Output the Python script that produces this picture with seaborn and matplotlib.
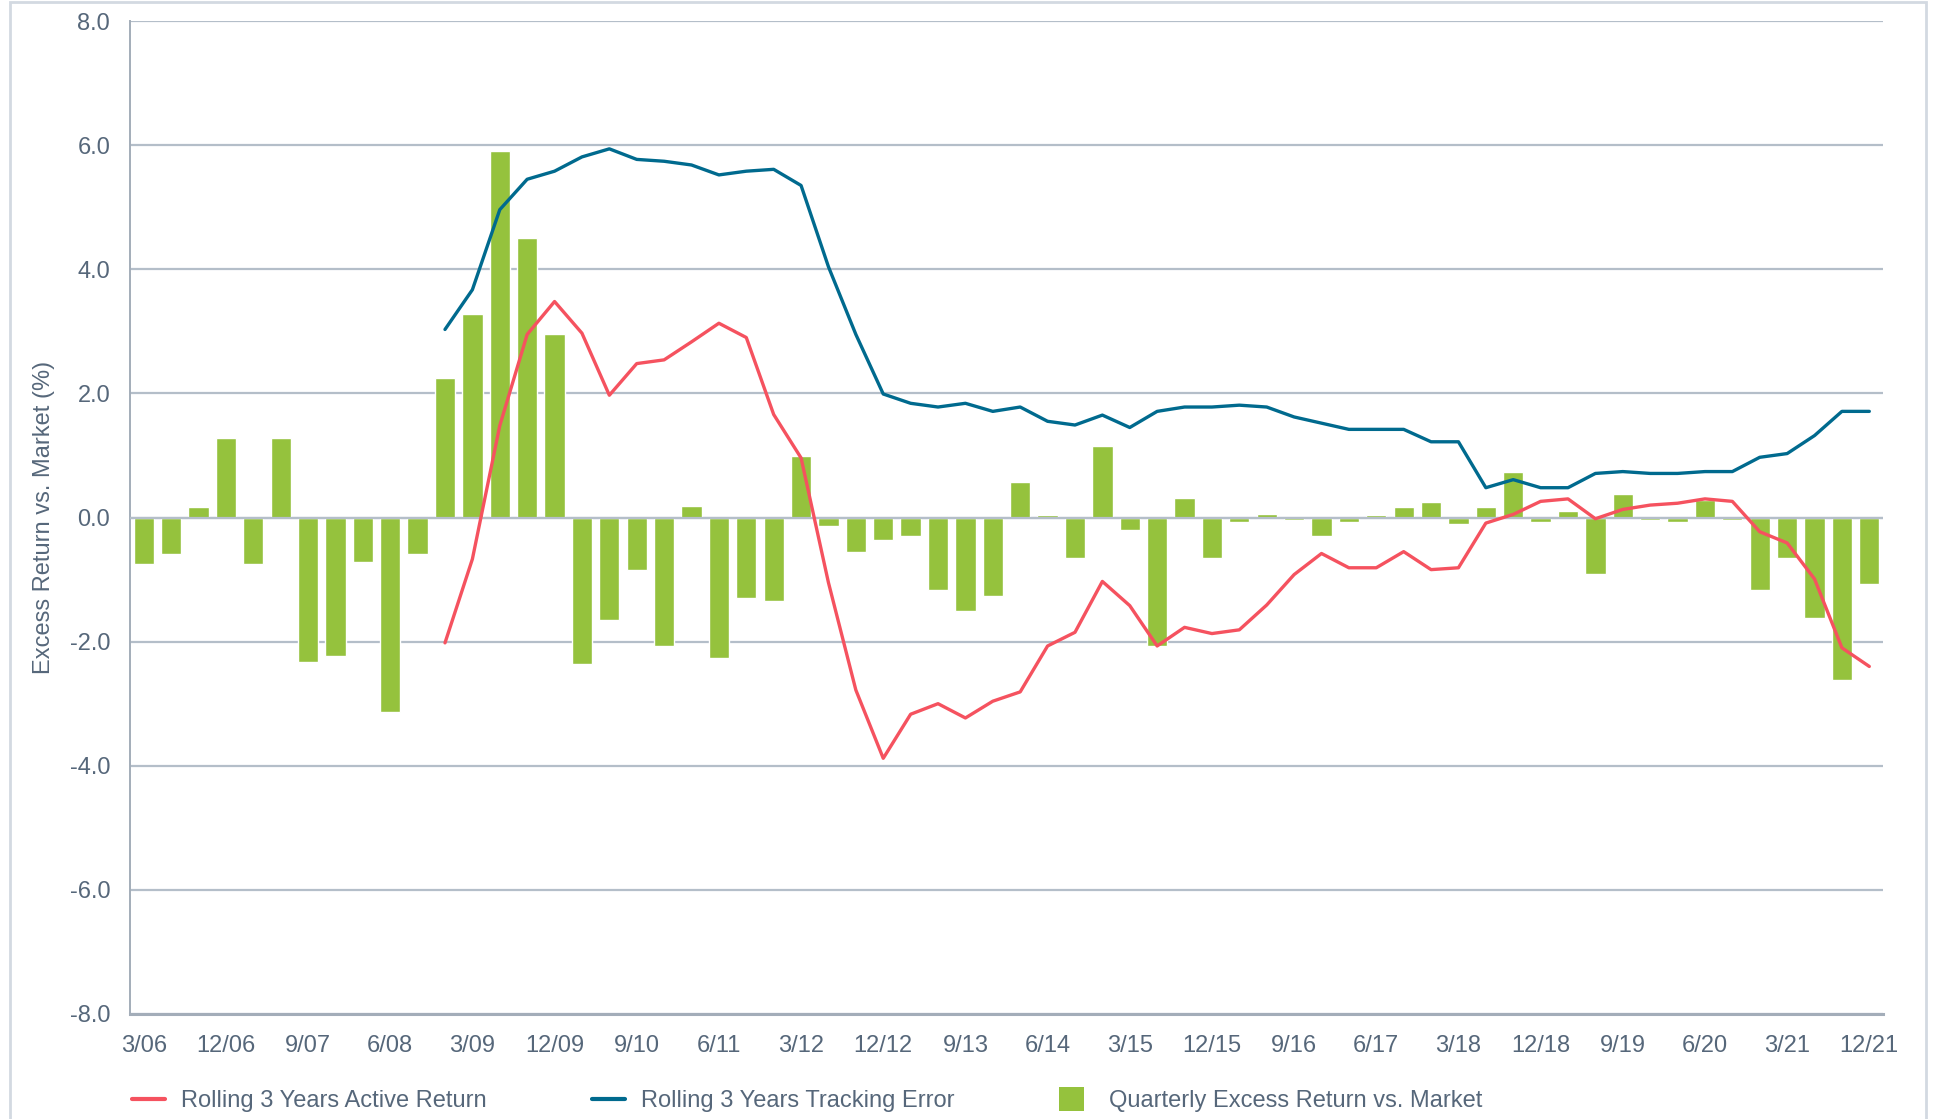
import numpy as np
import pandas as pd
import matplotlib
matplotlib.use("Agg")
import matplotlib.pyplot as plt
from matplotlib.lines import Line2D
from matplotlib.patches import Rectangle, Patch
from matplotlib.legend_handler import HandlerPatch
import seaborn as sns

# Quarter-end labels, 3/06 through 12/21
quarters = [f"{m}/{y:02d}" for y in range(6, 22) for m in (3, 6, 9, 12)]

# Quarterly excess return vs. market (%)
quarterly_excess = [
    -0.75, -0.59, 0.17, 1.28, -0.75, 1.28, -2.33, -2.23, -0.72, -3.14,
    -0.59, 2.25, 3.28, 5.90, 4.51, 2.96, -2.36, -1.65, -0.85, -2.07,
    0.18, -2.27, -1.30, -1.34, 0.99, -0.14, -0.55, -0.37, -0.30, -1.17,
    -1.50, -1.27, 0.57, 0.04, -0.66, 1.15, -0.20, -2.07, 0.31, -0.66,
    -0.07, 0.05, -0.04, -0.30, -0.07, 0.04, 0.17, 0.25, -0.10, 0.17,
    0.73, -0.07, 0.10, -0.91, 0.38, -0.04, -0.07, 0.28, -0.04, -1.17,
    -0.65, -1.62, -2.62, -1.07,
]

# Rolling 3-year statistics start with the 12th quarter (12/08)
rolling_quarters = quarters[11:]

active_return = [
    -2.02, -0.67, 1.48, 2.95, 3.48, 2.97, 1.97, 2.48, 2.54, 2.83,
    3.13, 2.90, 1.66, 0.96, -1.05, -2.78, -3.88, -3.17, -3.00, -3.23,
    -2.96, -2.81, -2.07, -1.85, -1.03, -1.42, -2.07, -1.77, -1.87, -1.81,
    -1.41, -0.92, -0.58, -0.81, -0.81, -0.55, -0.84, -0.81, -0.09, 0.05,
    0.26, 0.30, -0.02, 0.13, 0.20, 0.23, 0.30, 0.26, -0.23, -0.41,
    -0.99, -2.10, -2.40,
]

tracking_error = [
    3.03, 3.67, 4.96, 5.45, 5.58, 5.81, 5.94, 5.77, 5.74, 5.68,
    5.52, 5.58, 5.61, 5.35, 4.04, 2.95, 1.99, 1.84, 1.78, 1.84,
    1.71, 1.78, 1.55, 1.49, 1.65, 1.45, 1.71, 1.78, 1.78, 1.81,
    1.78, 1.62, 1.52, 1.42, 1.42, 1.42, 1.22, 1.22, 0.48, 0.61,
    0.48, 0.48, 0.71, 0.74, 0.71, 0.71, 0.74, 0.74, 0.97, 1.03,
    1.32, 1.71, 1.71,
]

tick_labels = quarters[::3]
y_ticks = [-8.0, -6.0, -4.0, -2.0, 0.0, 2.0, 4.0, 6.0, 8.0]

series_names = [
    "Rolling 3 Years Active Return",
    "Rolling 3 Years Tracking Error",
    "Quarterly Excess Return vs. Market",
]

GREEN = "#95c23d"
RED = "#f5525f"
BLUE = "#006a8e"
GRID = "#b4bec9"
AXIS = "#a3adb9"
TICK = "#d3d8de"
TEXT = "#56677a"
FRAME = "#d3d9e1"
FS = 17

sns.set_style("white")
plt.rcParams["font.family"] = ["Liberation Sans", "DejaVu Sans"]
plt.rcParams["axes.unicode_minus"] = False

W, H = 1940, 1119
fig = plt.figure(figsize=(W / 100, H / 100), dpi=100)
ax = fig.add_axes([130 / W, 1 - 1014 / H, (1883 - 130) / W, (1014 - 21) / H])

pos_of = {q: i for i, q in enumerate(quarters)}
bars = pd.DataFrame({"pos": [pos_of[q] for q in quarters], "excess": quarterly_excess})
rolling = pd.DataFrame({
    "pos": [pos_of[q] for q in rolling_quarters],
    "active": active_return,
    "te": tracking_error,
})

sns.barplot(data=bars, x="pos", y="excess", native_scale=True, color=GREEN,
            saturation=1, width=0.74, errorbar=None, ax=ax, zorder=2)
# zero reference line sits on top of the bars
ax.axhline(0, color=GRID, lw=1.6, zorder=3)
sns.lineplot(data=rolling, x="pos", y="active", color=RED, lw=2.4, ax=ax, zorder=4)
sns.lineplot(data=rolling, x="pos", y="te", color=BLUE, lw=2.4, ax=ax, zorder=4)

ax.set_xlim(-0.5, len(quarters) - 0.5)
ax.set_ylim(-8, 8)
ax.set_xticks([pos_of[q] for q in tick_labels])
ax.set_xticklabels(tick_labels)
ax.set_yticks(y_ticks)
ax.set_yticklabels([f"{v:.1f}" for v in y_ticks])
ax.set_xlabel("")
ax.set_ylabel("Excess Return vs. Market (%)", fontsize=FS, color=TEXT)
ax.yaxis.set_label_coords(-0.0425, 0.5)

ax.set_axisbelow(True)
ax.yaxis.grid(True, color=GRID, lw=1.6)
ax.xaxis.grid(False)
for side in ("top", "right"):
    ax.spines[side].set_visible(False)
ax.spines["left"].set_color(AXIS)
ax.spines["left"].set_linewidth(1.4)
ax.spines["bottom"].set_color(AXIS)
ax.spines["bottom"].set_linewidth(2.2)

ax.tick_params(axis="x", length=7, width=1.3, color=TICK, pad=8,
               labelsize=FS, labelcolor=TEXT)
ax.tick_params(axis="y", length=8.3, width=1.4, color=AXIS, pad=6,
               labelsize=FS, labelcolor=TEXT)

# Light frame around the whole graphic
fig.add_artist(Rectangle((10 / W, -0.02), (1926 - 10) / W, 0.02 + 1 - 1.5 / H,
                         transform=fig.transFigure, fill=False,
                         edgecolor=FRAME, lw=2, clip_on=False))


def square_handle(legend, orig_handle, xdescent, ydescent, width, height, fontsize):
    s = 17.3
    return Rectangle((-xdescent, -ydescent + height / 2 - s / 2), s, s)


handles = [
    Line2D([], [], color=RED, lw=3),
    Line2D([], [], color=BLUE, lw=3),
    Patch(facecolor=GREEN, edgecolor="none"),
]
leg = fig.legend(handles, series_names, loc="center left",
                 bbox_to_anchor=(132 / W, 1 - 1101.5 / H), ncol=3, frameon=False,
                 fontsize=FS, handlelength=1.4, handletextpad=0.68,
                 columnspacing=4.45, borderpad=0, borderaxespad=0,
                 handler_map={Patch: HandlerPatch(patch_func=square_handle)})
for t in leg.get_texts():
    t.set_color(TEXT)

fig.savefig("out.png", dpi=100)
